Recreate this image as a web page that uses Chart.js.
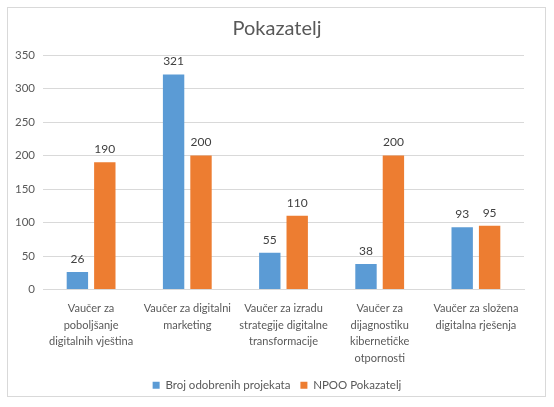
<!DOCTYPE html>
<html>
<head>
<meta charset="utf-8">
<script src="https://cdn.jsdelivr.net/npm/chart.js@4/dist/chart.umd.min.js"></script>
<style>
  html, body { margin: 0; padding: 0; background: #fff; }
  #wrap { position: relative; width: 554px; height: 407px; }
  #frame { position: absolute; left: 7px; top: 7px; width: 537px; height: 388px; border: 1px solid #d9d9d9; }
  canvas { position: absolute; left: 0; top: 0; }
</style>
</head>
<body>
<div id="wrap">
  <div id="frame"></div>
  <canvas id="pokazatelj" width="554" height="407"></canvas>
</div>
<script>
var categories = [
    ["Vaučer za", "poboljšanje", "digitalnih vještina"],
    ["Vaučer za digitalni", "marketing"],
    ["Vaučer za izradu", "strategije digitalne", "transformacije"],
    ["Vaučer za", "dijagnostiku", "kibernetičke", "otpornosti"],
    ["Vaučer za složena", "digitalna rješenja"]
];
var odobreni = [26, 321, 55, 38, 93];
var npoo = [190, 200, 110, 200, 95];
var yTicks = [0, 50, 100, 150, 200, 250, 300, 350];

var fontName = "Lato, 'Open Sans', sans-serif";

// write the value above every bar
var valueLabels = {
    id: "valueLabels",
    afterDatasetsDraw: function(chart) {
        var c = chart.ctx;
        c.save();
        c.font = "12px " + fontName;
        c.fillStyle = "#404040";
        c.textAlign = "center";
        c.textBaseline = "bottom";
        chart.data.datasets.forEach(function(ds, i) {
            chart.getDatasetMeta(i).data.forEach(function(bar, j) {
                c.fillText(ds.data[j], bar.x, bar.y - 7);
            });
        });
        c.restore();
    }
};

var ctx = document.getElementById("pokazatelj");

var chart = new Chart(ctx, {
    type: "bar",
    data: {
        labels: categories,
        datasets: [{
            label: "Broj odobrenih projekata",
            data: odobreni,
            backgroundColor: "#5b9bd5"
        }, {
            label: "NPOO Pokazatelj",
            data: npoo,
            backgroundColor: "#ed7d31"
        }]
    },
    options: {
        responsive: false,
        animation: false,
        devicePixelRatio: 1,
        categoryPercentage: 0.57,
        barPercentage: 0.78,
        layout: { padding: { left: 14, right: 14, top: 14, bottom: 6 } },
        plugins: {
            title: {
                display: true,
                text: "Pokazatelj",
                color: "#595959",
                font: { family: fontName, size: 20, weight: "normal" },
                padding: { top: 3, bottom: 14 }
            },
            legend: {
                position: "bottom",
                labels: {
                    boxWidth: 7,
                    boxHeight: 7,
                    color: "#595959",
                    font: { family: fontName, size: 11.5 },
                    padding: 10
                }
            },
            tooltip: { enabled: false }
        },
        scales: {
            x: {
                grid: { display: false },
                border: { color: "#d9d9d9" },
                ticks: {
                    color: "#595959",
                    font: { family: fontName, size: 11, lineHeight: 1.5 },
                    maxRotation: 0,
                    autoSkip: false,
                    padding: 3
                }
            },
            y: {
                min: 0,
                max: 350,
                afterBuildTicks: function(axis) {
                    axis.ticks = yTicks.map(function(v) { return { value: v }; });
                },
                afterFit: function(axis) { axis.width = 29; },
                grid: { color: "#d9d9d9", drawTicks: false },
                border: { display: false },
                ticks: {
                    color: "#595959",
                    font: { family: fontName, size: 11.5 },
                    padding: 8
                }
            },
            // empty strip on the right so title and legend stay centred
            spacer: {
                type: "linear",
                position: "right",
                grid: { display: false },
                border: { display: false },
                ticks: { display: false },
                afterFit: function(axis) { axis.width = 16; }
            }
        }
    },
    plugins: [valueLabels]
});
</script>
</body>
</html>
